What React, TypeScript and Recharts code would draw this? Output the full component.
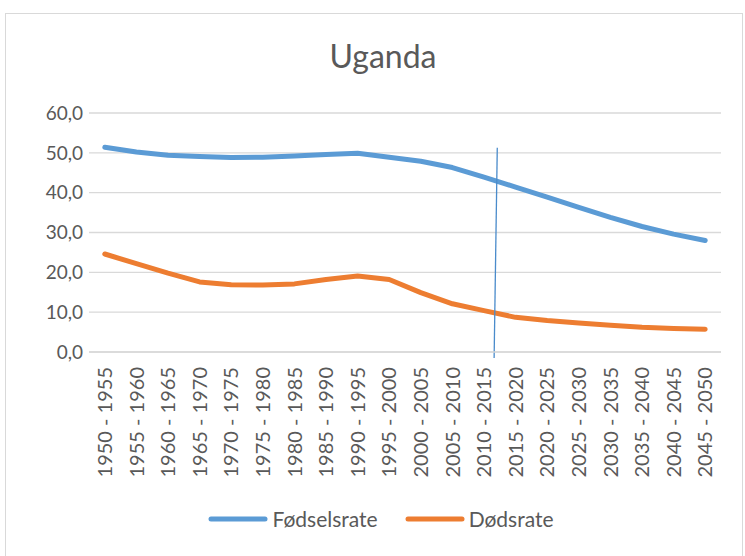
import { LineChart, Line, XAxis, YAxis, CartesianGrid, ReferenceLine } from 'recharts';

// periods on the x axis
const periods = [
  '1950 - 1955', '1955 - 1960', '1960 - 1965', '1965 - 1970', '1970 - 1975',
  '1975 - 1980', '1980 - 1985', '1985 - 1990', '1990 - 1995', '1995 - 2000',
  '2000 - 2005', '2005 - 2010', '2010 - 2015', '2015 - 2020', '2020 - 2025',
  '2025 - 2030', '2030 - 2035', '2035 - 2040', '2040 - 2045', '2045 - 2050',
];

const fodselsrate = [
  51.4, 50.2, 49.4, 49.1, 48.8, 48.9, 49.2, 49.6, 49.9, 48.9,
  47.9, 46.3, 43.9, 41.4, 38.9, 36.3, 33.8, 31.5, 29.6, 28.0,
];

const dodsrate = [
  24.6, 22.2, 19.8, 17.6, 16.9, 16.8, 17.1, 18.2, 19.1, 18.2,
  14.9, 12.1, 10.4, 8.7, 7.9, 7.3, 6.7, 6.2, 5.9, 5.7,
];

const yTicks = [0, 10, 20, 30, 40, 50, 60];

// the hand-drawn marker line between 2010-2015 and 2015-2020
const markerLine = [
  { x: 12.42, y: 51.3 },
  { x: 12.32, y: -1.5 },
];

const seriesNames = ['Fødselsrate', 'Dødsrate'];
const colors = ['#5B9BD5', '#ED7D31'];

const data = periods.map((p, i) => ({
  idx: i,
  period: p,
  fodsel: fodselsrate[i],
  dod: dodsrate[i],
}));

const font = 'Lato, Calibri, sans-serif';
const textColor = '#595959';

function PeriodTick(props: any) {
  const { x, y, payload } = props;
  return (
    <text
      x={x}
      y={y}
      transform={`rotate(-90, ${x}, ${y})`}
      textAnchor="end"
      dy="0.36em"
      fill={textColor}
      fontFamily={font}
      fontSize={20}
    >
      {periods[payload.value]}
    </text>
  );
}

export default function App() {
  return (
    <div style={{ position: 'absolute', left: 0, top: 0, width: 745, height: 556, background: '#fff', overflow: 'hidden' }}>
      <div style={{ position: 'absolute', left: 5, top: 13, width: 738, height: 560, border: '1px solid #D9D9D9', boxSizing: 'border-box' }} />
      <div style={{ position: 'absolute', left: 0, top: 36, width: 766, textAlign: 'center', fontFamily: font, fontSize: 32, color: textColor }}>
        Uganda
      </div>
      <div style={{ position: 'absolute', left: 0, top: 0 }}>
        <LineChart width={745} height={556} data={data} margin={{ top: 113, right: 24, bottom: 0, left: 9 }}>
          <CartesianGrid vertical={false} stroke="#D9D9D9" strokeWidth={1.3} />
          <XAxis
            dataKey="idx"
            type="number"
            domain={[-0.5, 19.5]}
            ticks={periods.map((_, i) => i)}
            interval={0}
            height={204}
            tickLine={false}
            tickSize={6}
            tickMargin={9}
            axisLine={{ stroke: '#D9D9D9', strokeWidth: 1.3 }}
            tick={<PeriodTick />}
          />
          <YAxis
            domain={[0, 60]}
            ticks={yTicks}
            width={80}
            axisLine={false}
            tickLine={false}
            tickSize={0}
            tickMargin={6}
            tickFormatter={(v: number) => v.toFixed(1).replace('.', ',')}
            tick={{ fill: textColor, fontFamily: font, fontSize: 19 }}
          />
          <Line
            dataKey="fodsel"
            name={seriesNames[0]}
            type="linear"
            stroke={colors[0]}
            strokeWidth={5}
            strokeLinecap="round"
            strokeLinejoin="round"
            dot={false}
            isAnimationActive={false}
          />
          <Line
            dataKey="dod"
            name={seriesNames[1]}
            type="linear"
            stroke={colors[1]}
            strokeWidth={5}
            strokeLinecap="round"
            strokeLinejoin="round"
            dot={false}
            isAnimationActive={false}
          />
          <ReferenceLine segment={markerLine} stroke="#4A8BCB" strokeWidth={1.3} ifOverflow="visible" />
        </LineChart>
      </div>
      <div style={{ position: 'absolute', left: 0, top: 506, width: 762, display: 'flex', justifyContent: 'center', alignItems: 'center', fontFamily: font, fontSize: 21, color: textColor }}>
        {seriesNames.map((name, i) => (
          <div key={name} style={{ display: 'flex', alignItems: 'center', marginLeft: i === 0 ? 0 : 27 }}>
            <svg width={60} height={10} style={{ marginRight: 4 }}>
              <line x1={3} y1={5} x2={57} y2={5} stroke={colors[i]} strokeWidth={5} strokeLinecap="round" />
            </svg>
            <span>{name}</span>
          </div>
        ))}
      </div>
    </div>
  );
}
